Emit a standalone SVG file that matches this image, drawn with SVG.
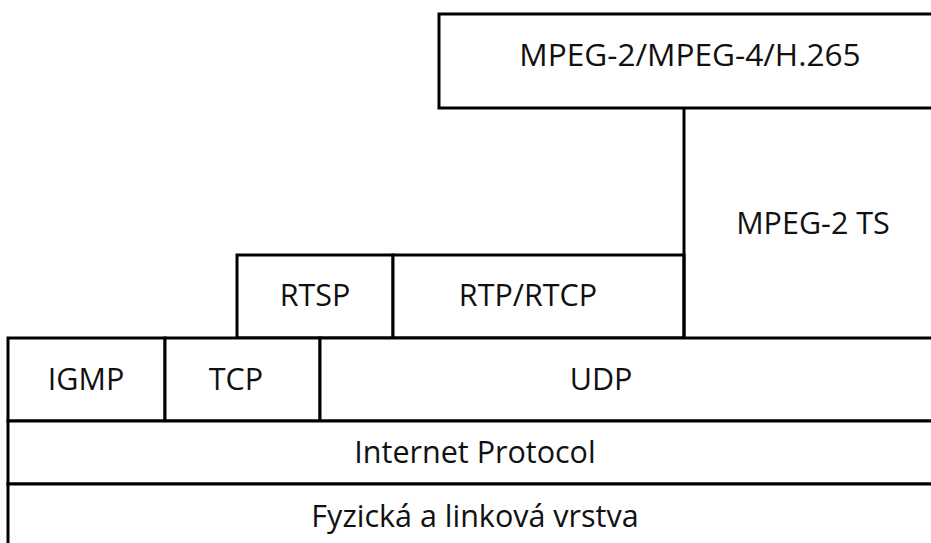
<svg xmlns="http://www.w3.org/2000/svg" width="931" height="543" viewBox="0 0 931 543">
<style>
.box{fill:#fff;stroke:#000;stroke-width:3}
.ln{fill:none;stroke:#000;stroke-width:3}
text{font-family:"Open Sans","Liberation Sans",sans-serif;font-size:30.5px;fill:#111;text-anchor:middle}
.big{font-size:31.6px}
</style>
<rect x="0" y="0" width="931" height="543" fill="#fff"/>
<g id="codec">
<rect class="box" x="439" y="14" width="510" height="94"/>
<text class="big" x="690" y="66">MPEG-2/MPEG-4/H.265</text>
</g>
<g id="ts">
<text x="813" y="234">MPEG-2 TS</text>
</g>
<g id="rtsp">
<rect class="box" x="237" y="255" width="156" height="83"/>
<text x="315" y="306">RTSP</text>
</g>
<g id="rtp">
<rect class="box" x="393" y="255" width="291" height="83"/>
<text x="528" y="306">RTP/RTCP</text>
</g>
<g id="igmp">
<rect class="box" x="8" y="338" width="157" height="83"/>
<text x="86" y="390">IGMP</text>
</g>
<g id="tcp">
<rect class="box" x="165" y="338" width="155" height="83"/>
<text x="236" y="390">TCP</text>
</g>
<g id="udp">
<rect class="box" x="320" y="338" width="630" height="83"/>
<text x="601" y="390">UDP</text>
</g>
<g id="ip">
<rect class="box" x="8" y="421" width="942" height="63"/>
<text x="475" y="463">Internet Protocol</text>
</g>
<g id="phy">
<rect class="box" x="8" y="484" width="942" height="80"/>
<text x="475" y="527">Fyzická a linková vrstva</text>
</g>
<g id="connectors">
<line class="ln" x1="684" y1="108" x2="684" y2="338"/>
</g>
</svg>
